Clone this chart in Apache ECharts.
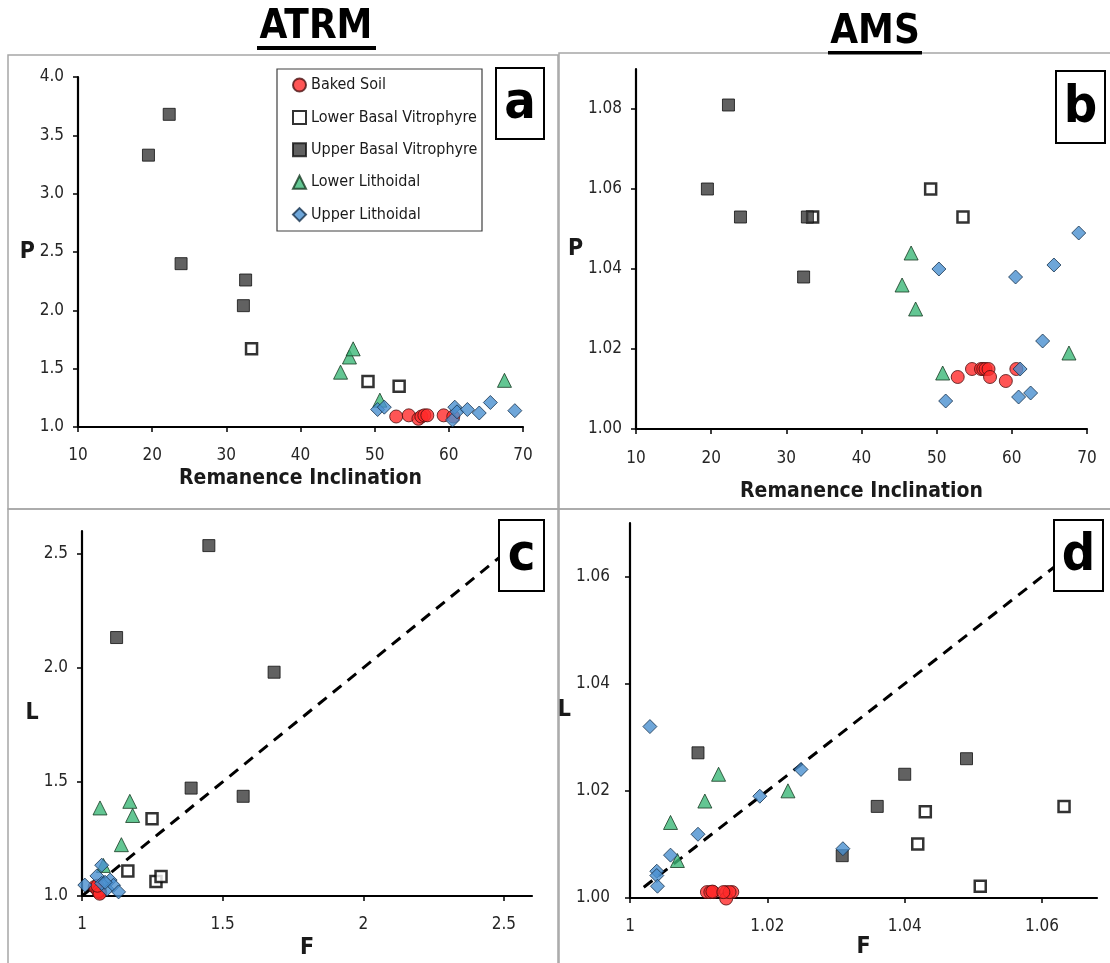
<!DOCTYPE html>
<html>
<head>
<meta charset="utf-8">
<script src="https://cdn.jsdelivr.net/npm/echarts@6/dist/echarts.min.js"></script>
<style>html,body{margin:0;padding:0;background:#fff}#c{width:1110px;height:963px}</style>
</head>
<body>
<div id="c"></div>
<script>
// ---------- DATA ----------
const seriesNames = ['Baked Soil', 'Lower Basal Vitrophyre', 'Upper Basal Vitrophyre', 'Lower Lithoidal', 'Upper Lithoidal'];

// Panel a: ATRM, Remanence Inclination vs P
const aBakedSoil = [[52.9,1.09],[54.6,1.10],[55.9,1.07],[56.3,1.09],[56.7,1.10],[57.1,1.10],[59.3,1.10],[60.6,1.09]];
const aLowerBasal = [[33.4,1.67],[49.1,1.39],[53.3,1.35]];
const aUpperBasal = [[19.5,3.33],[22.3,3.68],[23.9,2.40],[32.6,2.26],[32.3,2.04]];
const aLowerLith = [[45.4,1.47],[46.6,1.60],[47.1,1.67],[50.7,1.23],[67.5,1.40]];
const aUpperLith = [[50.4,1.15],[51.3,1.17],[60.5,1.06],[60.8,1.17],[61.1,1.13],[62.5,1.15],[64.1,1.12],[65.6,1.21],[68.9,1.14]];

// Panel b: AMS, Remanence Inclination vs P
const bBakedSoil = [[52.8,1.013],[54.7,1.015],[55.9,1.015],[56.2,1.015],[56.5,1.015],[56.9,1.015],[57.1,1.013],[59.2,1.012],[60.6,1.015]];
const bLowerBasal = [[33.5,1.053],[49.2,1.060],[53.5,1.053]];
const bUpperBasal = [[19.5,1.060],[22.3,1.081],[23.9,1.053],[32.8,1.053],[32.3,1.038]];
const bLowerLith = [[45.4,1.036],[46.6,1.044],[47.2,1.030],[50.8,1.014],[67.6,1.019]];
const bUpperLith = [[50.3,1.040],[51.2,1.007],[60.5,1.038],[60.9,1.008],[61.1,1.015],[62.5,1.009],[64.1,1.022],[65.6,1.041],[68.9,1.049]];

// Panel c: ATRM, F vs L
const cBakedSoil = [[1.045,1.040],[1.060,1.020],[1.055,1.030],[1.065,1.015],[1.050,1.035],[1.062,1.025],[1.058,1.020],[1.063,1.010],[1.055,1.045]];
const cLowerBasal = [[1.249,1.339],[1.163,1.110],[1.263,1.064],[1.281,1.086]];
const cUpperBasal = [[1.451,2.536],[1.123,2.133],[1.683,1.981],[1.388,1.473],[1.573,1.437]];
const cLowerLith = [[1.064,1.386],[1.170,1.415],[1.180,1.353],[1.140,1.225],[1.076,1.134]];
const cUpperLith = [[1.010,1.048],[1.070,1.135],[1.053,1.088],[1.100,1.070],[1.089,1.030],[1.112,1.047],[1.130,1.018],[1.070,1.055],[1.082,1.060]];
const cRefLine = [[1.0,1.0],[2.5,2.5]];

// Panel d: AMS, F vs L
const dBakedSoil = [[1.0112,1.0011],[1.0121,1.0011],[1.0117,1.0011],[1.0140,1.0011],[1.0149,1.0011],[1.0140,0.9999],[1.0145,1.0011],[1.0120,1.0012],[1.0136,1.0011]];
const dLowerBasal = [[1.0419,1.0101],[1.0430,1.0161],[1.0510,1.0022],[1.0632,1.0171]];
const dUpperBasal = [[1.0099,1.0271],[1.0309,1.0079],[1.0360,1.0171],[1.0400,1.0231],[1.0490,1.0260]];
const dLowerLith = [[1.0059,1.0141],[1.0109,1.0181],[1.0129,1.0231],[1.0230,1.0200],[1.0069,1.0070]];
const dUpperLith = [[1.0029,1.0320],[1.0249,1.0240],[1.0189,1.0190],[1.0099,1.0119],[1.0059,1.0080],[1.0039,1.0050],[1.0039,1.0042],[1.0040,1.0022],[1.0310,1.0092]];
const dRefLine = [[1.002,1.002],[1.066,1.066]];

// Tick labels
const aXTicks = [10,20,30,40,50,60,70];
const aYTicks = [1.0,1.5,2.0,2.5,3.0,3.5,4.0];
const bYTicks = [1.00,1.02,1.04,1.06,1.08];
const cXTicks = [1,1.5,2,2.5];
const cYTicks = [1.0,1.5,2.0,2.5];
const dXTicks = [1,1.02,1.04,1.06];
const dYTicks = [1.00,1.02,1.04,1.06];

// ---------- STYLE ----------
const FONT = "'Liberation Sans Narrow','DejaVu Sans Condensed','Liberation Sans',sans-serif";
const STYLE = {
  'Baked Soil': {symbol:'circle', size:13, itemStyle:{color:'#ff2b2b', borderColor:'#4a1010', borderWidth:1}},
  'Lower Basal Vitrophyre': {symbol:'rect', size:11, itemStyle:{color:'#ffffff', borderColor:'#000000', borderWidth:2.5}},
  'Upper Basal Vitrophyre': {symbol:'rect', size:12, itemStyle:{color:'#3a3a3a', borderColor:'#111111', borderWidth:1}},
  'Lower Lithoidal': {symbol:'triangle', size:14, itemStyle:{color:'#3cb878', borderColor:'#173a22', borderWidth:1}},
  'Upper Lithoidal': {symbol:'diamond', size:14, itemStyle:{color:'#4a90d0', borderColor:'#16324d', borderWidth:1}}
};

const panels = [
  {data:[aBakedSoil,aLowerBasal,aUpperBasal,aLowerLith,aUpperLith]},
  {data:[bBakedSoil,bLowerBasal,bUpperBasal,bLowerLith,bUpperLith]},
  {data:[cBakedSoil,cLowerBasal,cUpperBasal,cLowerLith,cUpperLith], ref:cRefLine},
  {data:[dBakedSoil,dLowerBasal,dUpperBasal,dLowerLith,dUpperLith], ref:dRefLine}
];

const grids = [
  {left:78, top:77, width:445, height:350},
  {left:636, top:69, width:451, height:360},
  {left:82, top:531, width:450, height:365},
  {left:630, top:523, width:467, height:375}
].map(g => Object.assign({outerBoundsMode:'none', containLabel:false}, g));

const axisLine = {show:true, onZero:false, lineStyle:{color:'#000', width:2.2}};
const axisTick = (vals) => Object.assign({show:true, inside:false, length:5, lineStyle:{color:'#000', width:1.5}}, vals ? {customValues: vals} : {});
const labelStyle = {color:'#262626', fontSize:17, fontFamily:FONT};
const nameStyleX = {color:'#1a1a1a', fontSize:21, fontWeight:'bold', fontFamily:FONT};
const nameStyleF = {color:'#1a1a1a', fontSize:23, fontWeight:'bold', fontFamily:FONT};
const nameStyleY = {color:'#1a1a1a', fontSize:23, fontWeight:'bold', fontFamily:FONT, align:'center', verticalAlign:'middle'};

const xAxes = [
  {gridIndex:0, type:'value', min:10, max:70, interval:10, name:'Remanence Inclination', nameLocation:'middle', nameGap:41, nameTextStyle:nameStyleX,
   axisLine, axisTick:axisTick(), splitLine:{show:false}, axisLabel:Object.assign({margin:20, customValues:aXTicks}, labelStyle)},
  {gridIndex:1, type:'value', min:10, max:70, interval:10, name:'Remanence Inclination', nameLocation:'middle', nameGap:52, nameTextStyle:nameStyleX,
   axisLine, axisTick:axisTick(), splitLine:{show:false}, axisLabel:Object.assign({margin:21}, labelStyle)},
  {gridIndex:2, type:'value', min:1, max:2.6, name:'F', nameLocation:'middle', nameGap:41, nameTextStyle:nameStyleF,
   axisLine, axisTick:axisTick(cXTicks), splitLine:{show:false}, axisLabel:Object.assign({margin:20, customValues:cXTicks}, labelStyle)},
  {gridIndex:3, type:'value', min:1, max:1.068, name:'F', nameLocation:'middle', nameGap:38, nameTextStyle:nameStyleF,
   axisLine, axisTick:axisTick(dXTicks), splitLine:{show:false}, axisLabel:Object.assign({margin:20, customValues:dXTicks}, labelStyle)}
];
const yAxes = [
  {gridIndex:0, type:'value', min:1, max:4, interval:0.5, name:'P', nameLocation:'middle', nameRotate:0, nameGap:50, nameTextStyle:nameStyleY,
   axisLine, axisTick:axisTick(), splitLine:{show:false}, axisLabel:Object.assign({margin:14, customValues:aYTicks, formatter:v=>v.toFixed(1)}, labelStyle)},
  {gridIndex:1, type:'value', min:1, max:1.09, name:'P', nameLocation:'middle', nameRotate:0, nameGap:58, nameTextStyle:nameStyleY,
   axisLine, axisTick:axisTick(bYTicks), splitLine:{show:false}, axisLabel:Object.assign({margin:14, customValues:bYTicks, formatter:v=>v.toFixed(2)}, labelStyle)},
  {gridIndex:2, type:'value', min:1, max:2.6, name:'L', nameLocation:'middle', nameRotate:0, nameGap:49, nameTextStyle:nameStyleY,
   axisLine, axisTick:axisTick(cYTicks), splitLine:{show:false}, axisLabel:Object.assign({margin:14, customValues:cYTicks, formatter:v=>v.toFixed(1)}, labelStyle)},
  {gridIndex:3, type:'value', min:1, max:1.07, name:'L', nameLocation:'middle', nameRotate:0, nameGap:58, nameTextStyle:nameStyleY,
   axisLine, axisTick:axisTick(dYTicks), splitLine:{show:false}, axisLabel:Object.assign({margin:20, customValues:dYTicks, formatter:v=>v.toFixed(2)}, labelStyle)}
];

const series = [];
panels.forEach((p, i) => {
  if (p.ref) {
    series.push({type:'line', xAxisIndex:i, yAxisIndex:i, data:p.ref, symbol:'none', silent:true, z:1,
      lineStyle:{color:'#000', width:3, type:[11,8]}});
  }
  p.data.forEach((d, k) => {
    const nm = seriesNames[k], st = STYLE[nm];
    series.push({type:'scatter', name:nm, xAxisIndex:i, yAxisIndex:i, data:d, clip:false,
      symbol:st.symbol, symbolSize:st.size, itemStyle:st.itemStyle, z:2+k});
  });
});

// frames, label boxes, titles
const frameStroke = {stroke:'#a6a6a6', lineWidth:1.5, fill:null};
const graphic = [
  {type:'rect', shape:{x:8, y:55, width:550, height:454}, style:frameStroke, z:0, silent:true},
  {type:'rect', shape:{x:559, y:53, width:560, height:456}, style:frameStroke, z:0, silent:true},
  {type:'rect', shape:{x:8, y:509, width:550, height:470}, style:frameStroke, z:0, silent:true},
  {type:'rect', shape:{x:559, y:509, width:560, height:470}, style:frameStroke, z:0, silent:true},
  // legend box
  {type:'rect', shape:{x:277, y:69, width:205, height:162}, style:{stroke:'#404040', lineWidth:1.2, fill:'#fff'}, z:50, silent:true},
  // titles
  {type:'text', x:316, y:28, style:{text:'ATRM', font:"bold 40px " + FONT, fill:'#000', align:'center', verticalAlign:'middle'}, z:100},
  {type:'rect', shape:{x:257, y:46, width:119, height:4}, style:{fill:'#000'}, z:100},
  {type:'text', x:875, y:33, style:{text:'AMS', font:"bold 40px " + FONT, fill:'#000', align:'center', verticalAlign:'middle'}, z:100},
  {type:'rect', shape:{x:828, y:51, width:94, height:3.5}, style:{fill:'#000'}, z:100}
];
const boxes = [
  {t:'a', x:496, y:68, w:48, h:71},
  {t:'b', x:1056, y:71, w:49, h:72},
  {t:'c', x:499, y:520, w:45, h:71},
  {t:'d', x:1054, y:520, w:49, h:71}
];
boxes.forEach(b => {
  graphic.push({type:'rect', shape:{x:b.x, y:b.y, width:b.w, height:b.h}, style:{fill:'#fff', stroke:'#000', lineWidth:2}, z:100});
  graphic.push({type:'text', x:b.x + b.w/2, y:b.y + b.h/2 + 1, style:{text:b.t, font:"bold 52px " + FONT, fill:'#000', align:'center', verticalAlign:'middle'}, z:101});
});

const chart = echarts.init(document.getElementById('c'), null, {renderer:'canvas'});
chart.setOption({
  backgroundColor:'#fff',
  animation:false,
  grid:grids,
  xAxis:xAxes,
  yAxis:yAxes,
  legend:{
    data:seriesNames, orient:'vertical', left:292, top:75, padding:0, z:60,
    itemWidth:13, itemHeight:13, itemGap:12.4,
    textStyle:{fontSize:16, lineHeight:20, color:'#1a1a1a', fontFamily:FONT}
  },
  graphic:{elements:graphic},
  series:series
});
</script>
</body>
</html>
